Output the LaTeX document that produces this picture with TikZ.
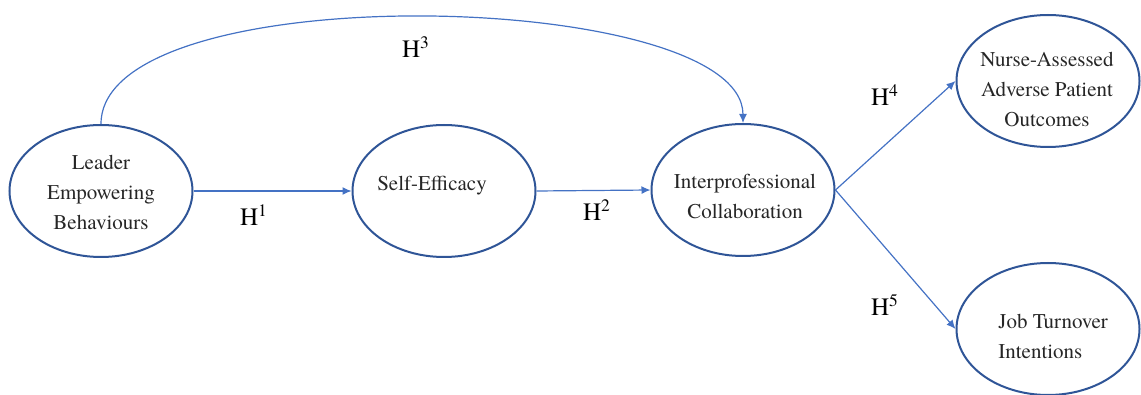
\documentclass[tikz,border=0pt]{standalone}
\usepackage{fontspec}
\setmainfont{texgyretermes-regular.otf}
\usetikzlibrary{shapes.geometric,arrows.meta}
\definecolor{ellcol}{HTML}{2F5597}
\definecolor{arrcol}{HTML}{4472C4}
\definecolor{txtcol}{HTML}{262626}
\tikzset{
  construct/.style={draw=ellcol, line width=1pt, ellipse, minimum width=91.5pt, minimum height=66pt, inner sep=0pt},
  ctext/.style={align=center, text=txtcol, font=\fontsize{10.5}{15}\selectfont, inner sep=0pt},
  hyp/.style={text=black, font=\fontsize{12.5}{14}\selectfont, inner sep=0pt},
  path/.style={draw=arrcol, line width=0.6pt, -{Latex[length=4.5pt,width=4pt]}}
}
\begin{document}
\begin{tikzpicture}[x=0.5pt,y=-0.5pt]
\useasboundingbox (0,0) rectangle (1141,395);
\node[construct] (L) at (101,191) {};
\node[construct] (S) at (444,191) {};
\node[construct] (I) at (743,190) {};
\node[construct] (N) at (1048,81) {};
\node[construct] (J) at (1048,329) {};
\node[ctext] (Lt) at (101,192) {Leader\\Empowering\\Behaviours};
\node[ctext] (St) at (432,186) {Self-Efficacy};
\node[ctext] (It) at (745,196) {Interprofessional\\Collaboration};
\node[ctext] (Nt) at (1047,89) {Nurse-Assessed\\Adverse Patient\\Outcomes};
\node[ctext, align=left, anchor=west] (Jt) at (998,336) {Job Turnover\\Intentions};
\draw[path] (L.east) -- (S.west);
\draw[path] (S.east) -- (I.west);
\draw[path] (L.north) .. controls +(0,-150) and +(0,-134) .. (I.north);
\draw[path] (I.east) -- (N.west);
\draw[path] (I.east) -- (J.west);
\node[hyp] (h1) at (254,215) {H\textsuperscript{1}};
\node[hyp] (h2) at (597,210) {H\textsuperscript{2}};
\node[hyp] (h3) at (416,47) {H\textsuperscript{3}};
\node[hyp] (h4) at (885,95) {H\textsuperscript{4}};
\node[hyp] (h5) at (885,305) {H\textsuperscript{5}};
\end{tikzpicture}
\end{document}
